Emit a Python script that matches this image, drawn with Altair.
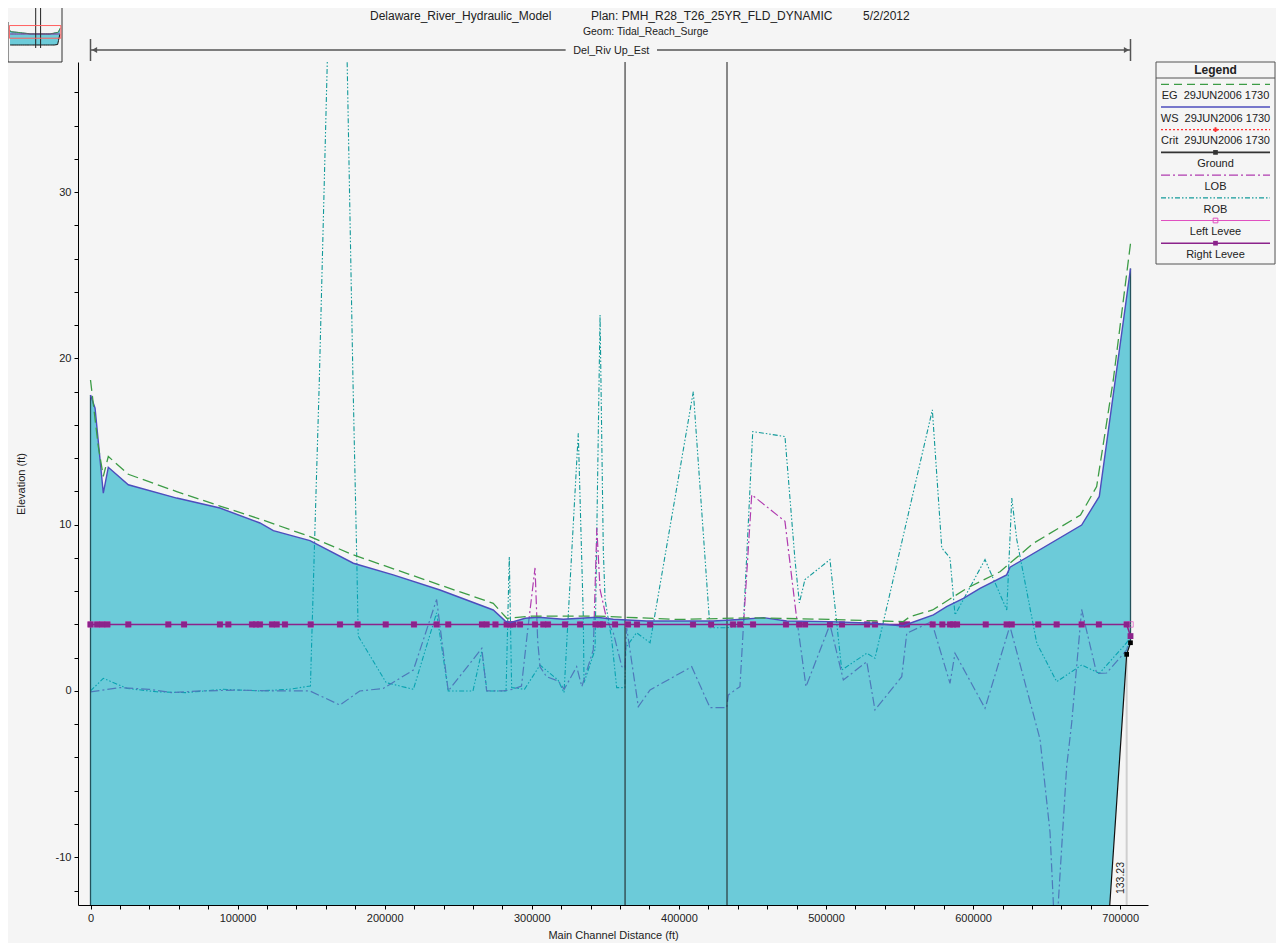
import altair as alt
import pandas as pd

# ---------------- text ----------------
TITLE_MODEL = "Delaware_River_Hydraulic_Model"
TITLE_PLAN = "Plan: PMH_R28_T26_25YR_FLD_DYNAMIC"
TITLE_DATE = "5/2/2012"
GEOM = "Geom: Tidal_Reach_Surge"
REACH = "Del_Riv Up_Est"
RS_LABEL = "133.23"
X_TITLE = "Main Channel Distance (ft)"
Y_TITLE = "Elevation (ft)"

# ---------------- data (ft) ----------------
WS_STATION = [0, 3100, 8700, 12100, 25700, 58600, 88000, 115200, 124300, 149200,
              178700, 205800, 237600, 273800, 282000, 285200, 295400, 304400, 321400, 344100,
              355400, 378000, 423400, 443800, 457400, 473300, 502700, 532200, 552500, 557100,
              573000, 582000, 593400, 604700, 622800, 625100, 673800, 685800, 704400, 707000]
WS_ELEV = [17.8, 17.0, 11.9, 13.45, 12.4, 11.6, 11.0, 10.1, 9.64, 9.04,
           7.68, 6.98, 6.07, 4.87, 4.2, 4.1, 4.37, 4.43, 4.31, 4.43,
           4.31, 4.21, 4.21, 4.31, 4.41, 4.21, 4.17, 4.07, 3.91, 4.07,
           4.57, 5.07, 5.57, 6.17, 6.98, 7.44, 9.98, 11.7, 23.7, 25.4]
GROUND_ELEV = [-40, -40, -40, -40, -40, -40, -40, -40, -40, -40,
               -40, -40, -40, -40, -40, -40, -40, -40, -40, -40,
               -40, -40, -40, -40, -40, -40, -40, -40, -40, -40,
               -40, -40, -40, -40, -40, -40, -38, -22.2, 2.2, 2.9]

EG_STATION = [0, 5300, 8700, 12100, 25700, 58600, 88000, 115200, 149200, 178700,
              237600, 273800, 283000, 300000, 345000, 400000, 450000, 502700, 552500, 557100,
              572500, 595600, 618300, 641000, 673000, 684000, 695300, 707000]
EG_ELEV = [18.7, 14.7, 12.9, 14.1, 13.03, 11.99, 11.12, 10.34, 9.28, 8.18,
           6.37, 5.27, 4.37, 4.5, 4.5, 4.3, 4.4, 4.3, 4.17, 4.47,
           4.87, 6.17, 7.17, 8.88, 10.58, 12.29, 18.7, 26.9]

LOB_STATION = [0, 20000, 40000, 55000, 75000, 100000, 125000, 149200, 169600, 183000,
               199000, 219500, 235300, 243200, 266000, 269300, 280600, 287000, 293000, 297000,
               302200, 304000, 305600, 310000, 318000, 322000, 330500, 334000, 341800, 344200,
               346400, 351000, 355500, 361200, 363400, 364500, 372400, 380400, 408700, 421100,
               432500, 433600, 441500, 443800, 449500, 472100, 479600, 486400, 502700, 511800,
               527700, 533300, 551500, 554900, 571800, 584300, 587700, 608100, 625000, 645500,
               652300, 656000, 663600, 667000, 673800, 684000, 690800, 704400, 707000]
LOB_ELEV = [-0.05, 0.2, 0.1, -0.1, 0.0, 0.05, 0.0, 0.0, -0.85, 0.0,
            0.15, 1.26, 5.5, 0.0, 2.56, 0.0, 0.0, 0.1, 0.3, 3.5,
            7.4, 3.0, 1.46, 0.86, 0.6, 0.1, 1.46, 0.26, 2.47, 9.8,
            6.1, 4.27, 3.47, 1.46, 1.38, 3.8, -0.94, 0.06, 1.46, -1.0,
            -1.0, -0.24, 0.26, 3.8, 11.8, 10.2, 4.7, 0.26, 4.0, 0.66,
            1.76, -1.14, 0.86, 3.47, 4.17, 0.46, 2.27, -1.04, 3.9, -2.9,
            -8.5, -15.5, -4.55, -1.94, 4.9, 1.06, 1.08, 2.47, 3.3]

ROB_STATION = [0, 8700, 25000, 45000, 65000, 90000, 115000, 135000, 149500, 152500,
               155500, 163000, 173000, 178400, 181000, 182000, 201000, 219500, 235300, 243200,
               260000, 266000, 269500, 282500, 284700, 286300, 295000, 305600, 317800, 321900,
               331600, 335000, 335500, 343000, 346400, 347500, 348600, 349800, 354300, 357700,
               363300, 363800, 371200, 380400, 409800, 421100, 432500, 443800, 450200, 472100,
               478900, 481900, 485700, 502700, 510700, 527700, 533300, 572300, 578700, 584300,
               587700, 608100, 622900, 626300, 629700, 643300, 656800, 673800, 685800, 704400,
               707000]
ROB_ELEV = [0.0, 0.76, 0.15, -0.05, -0.1, 0.1, 0.0, 0.1, 0.3, 9.5,
            18.5, 45.0, 45.0, 18.8, 8.0, 3.3, 0.5, 0.1, 4.7, 0.0,
            0.0, 2.4, 0.0, 0.0, 8.07, 0.2, 0.1, 1.56, 0.66, -0.1,
            15.5, 4.5, 0.5, 2.5, 22.6, 15.5, 8.5, 5.5, 3.1, 0.2,
            0.2, 2.6, 3.5, 2.9, 18.0, 3.8, 3.8, 3.9, 15.6, 15.3,
            7.9, 5.3, 6.7, 7.9, 1.26, 2.27, 1.97, 16.9, 8.6, 8.0,
            4.57, 7.9, 4.87, 11.6, 9.1, 2.87, 0.56, 1.56, 1.06, 2.9,
            3.3]

LEVEE_STATION = [0, 4500, 8000, 11500, 25700, 52900, 63600, 88000, 93700, 109800,
                 112500, 115200, 123400, 126600, 132200, 149700, 169600, 181600, 200700, 219900,
                 235300, 243200, 266100, 269300, 275300, 282900, 285200, 287400, 292000, 302200,
                 307800, 311000, 322600, 332800, 343300, 346400, 348400, 356600, 365400, 371500,
                 380400, 409600, 421900, 436800, 441600, 450400, 472800, 481700, 485800, 502700,
                 510900, 527900, 533300, 551700, 555100, 572500, 579100, 584300, 586400, 589100,
                 608600, 622800, 626300, 644300, 656800, 673800, 685500, 704400, 707000]
LEFT_LEVEE_ELEV = [4.0] * 69
RIGHT_LEVEE_ELEV = [4.0] * 68 + [3.3]

BRIDGE_STATION = [363400, 432700]
REACH_START, REACH_END = 0, 707000
RS_STATION, RS_GROUND = 704400, 2.2

LEGEND_LABELS = ["EG\u00a0 29JUN2006 1730", "WS\u00a0 29JUN2006 1730", "Crit\u00a0 29JUN2006 1730",
                 "Ground", "LOB", "ROB", "Left Levee", "Right Levee"]

# ---------------- style ----------------
FONT = "Liberation Sans"
BG = "#f5f5f5"
FILL = "#00aac3"
WS_C = "#4d4dbd"
EG_C = "#3c9c46"
ROB_C = "#139a9a"
LOB_C = "#b03cb0"
RL_C = "#8b238b"
LL_C = "#e050c0"
CRIT_C = "#ff3030"

W, H = 1070, 843
X_DOMAIN = [-8500, 718900]
Y_DOMAIN = [-12.87, 37.82]
xs = alt.Scale(domain=X_DOMAIN, nice=False, zero=False)
ys = alt.Scale(domain=Y_DOMAIN, nice=False, zero=False)

AX = alt.Axis(values=list(range(0, 700001, 20000)),
              labelExpr="datum.value % 100000 === 0 ? '' + datum.value : ''",
              title=X_TITLE, titleX=535, titleY=30, titleAlign="center", titleBaseline="middle",
              tickSize=4, labelPadding=3, labelFont=FONT, labelFontSize=11, labelColor="#222",
              titleFont=FONT, titleFontSize=11, titleFontWeight="normal", titleColor="#222",
              domainColor="#000", tickColor="#000", grid=False, labelOverlap=False, labelFlush=False)
AY = alt.Axis(values=list(range(-12, 38, 2)),
              labelExpr="datum.value % 10 === 0 ? '' + datum.value : ''",
              title=Y_TITLE, titleX=-57, titleY=421.5, titleAlign="center", titleBaseline="middle",
              tickSize=4, labelPadding=3, labelFont=FONT, labelFontSize=11, labelColor="#222",
              titleFont=FONT, titleFontSize=11, titleFontWeight="normal", titleColor="#222",
              domainColor="#000", tickColor="#000", grid=False, labelOverlap=False)


def X(f="s"):
    return alt.X(f + ":Q", scale=xs, axis=AX)


def Y(f="v"):
    return alt.Y(f + ":Q", scale=ys, axis=AY)


ws_df = pd.DataFrame({"s": WS_STATION, "ws": WS_ELEV, "g": GROUND_ELEV})
eg_df = pd.DataFrame({"s": EG_STATION, "v": EG_ELEV})
lob_df = pd.DataFrame({"s": LOB_STATION, "v": LOB_ELEV})
rob_df = pd.DataFrame({"s": ROB_STATION, "v": ROB_ELEV})
ll_df = pd.DataFrame({"s": LEVEE_STATION, "v": LEFT_LEVEE_ELEV})
rl_df = pd.DataFrame({"s": LEVEE_STATION, "v": RIGHT_LEVEE_ELEV})
br_df = pd.DataFrame({"s": BRIDGE_STATION})
edge_df = pd.DataFrame({"s": [WS_STATION[0], WS_STATION[-1]],
                        "top": [WS_ELEV[0], WS_ELEV[-1]],
                        "bot": [GROUND_ELEV[0], GROUND_ELEV[-1]]})
rs_df = pd.DataFrame({"s": [RS_STATION], "v": [RS_GROUND], "t": [RS_LABEL]})
reach_df = pd.DataFrame({"s": [REACH_START, REACH_END]})
ONE = pd.DataFrame({"k": [0]})

layers = []
# bank stations (under the translucent water fill)
layers.append(alt.Chart(rob_df).mark_line(color=ROB_C, strokeWidth=1.1, strokeDash=[5, 2, 1.5, 2, 1.5, 2],
                                          clip=True).encode(x=X(), y=Y()))
layers.append(alt.Chart(lob_df).mark_line(color=LOB_C, strokeWidth=1.2, strokeDash=[9, 3, 2, 3],
                                          clip=True).encode(x=X(), y=Y()))
# water fill
layers.append(alt.Chart(ws_df).mark_area(color=FILL, opacity=0.56, clip=True).encode(
    x=X(), y=Y("ws"), y2="g:Q"))
# edges of the wetted section
layers.append(alt.Chart(edge_df).mark_rule(color="#24525c", strokeWidth=1.3, clip=True).encode(
    x=X(), y=Y("top"), y2="bot:Q"))
# bridges
layers.append(alt.Chart(br_df).mark_rule(color="#1a1a1a", strokeWidth=1, clip=True).encode(x=X()))
# river-station marker
layers.append(alt.Chart(rs_df).mark_rule(color="#cfcfcf", strokeWidth=2, clip=True).encode(
    x=X(), y=Y(), y2=alt.value(H)))
layers.append(alt.Chart(rs_df).mark_text(angle=270, align="center", baseline="bottom", font=FONT,
                                         fontSize=10.5, color="#222", xOffset=-1).encode(
    x=X(), y=alt.value(H - 27), text="t:N"))
# levees
layers.append(alt.Chart(ll_df).mark_line(color=LL_C, strokeWidth=1, clip=True).encode(x=X(), y=Y()))
layers.append(alt.Chart(ll_df).mark_point(shape="square", filled=False, color=LL_C, size=30, strokeWidth=1,
                                          clip=True).encode(x=X(), y=Y()))
layers.append(alt.Chart(rl_df).mark_line(color=RL_C, strokeWidth=1.5, clip=True).encode(x=X(), y=Y()))
layers.append(alt.Chart(rl_df).mark_point(shape="square", filled=True, color=RL_C, size=34, opacity=1,
                                          clip=True).encode(x=X(), y=Y()))
# ground
layers.append(alt.Chart(ws_df).mark_line(color="#111", strokeWidth=1.2, clip=True).encode(x=X(), y=Y("g")))
layers.append(alt.Chart(ws_df).mark_point(shape="square", filled=True, color="#000", size=22, opacity=1,
                                          clip=True).encode(x=X(), y=Y("g")))
# water surface & energy grade
layers.append(alt.Chart(ws_df).mark_line(color=WS_C, strokeWidth=1.4, clip=True).encode(x=X(), y=Y("ws")))
layers.append(alt.Chart(eg_df).mark_line(color=EG_C, strokeWidth=1.3, strokeDash=[11, 5],
                                         clip=True).encode(x=X(), y=Y()))

# reach arrow above the plot
GAP_L, GAP_R, MID = 323000, 385100, 354000
seg_df = pd.DataFrame({"a": [REACH_START, GAP_R], "b": [GAP_L, REACH_END]})
layers.append(alt.Chart(seg_df).mark_rule(color="#555", strokeWidth=1.5).encode(
    x=X("a"), x2="b:Q", y=alt.value(-12)))
layers.append(alt.Chart(reach_df).mark_rule(color="#555", strokeWidth=1.5).encode(
    x=X(), y=alt.value(-23), y2=alt.value(-1)))
layers.append(alt.Chart(pd.DataFrame({"s": [REACH_START]})).mark_point(
    shape="triangle-left", filled=True, color="#555", size=36, xOffset=4, opacity=1).encode(
    x=X(), y=alt.value(-12)))
layers.append(alt.Chart(pd.DataFrame({"s": [REACH_END]})).mark_point(
    shape="triangle-right", filled=True, color="#555", size=36, xOffset=-4, opacity=1).encode(
    x=X(), y=alt.value(-12)))
layers.append(alt.Chart(pd.DataFrame({"s": [MID], "t": [REACH]})).mark_text(
    font=FONT, fontSize=10.8, color="#222", baseline="middle").encode(
    x=X(), y=alt.value(-11), text="t:N"))


def txt(x, y, t, size=11, align="left", weight="normal", color="#222"):
    return alt.Chart(ONE).mark_text(font=FONT, fontSize=size, align=align, baseline="middle",
                                    fontWeight=weight, color=color).encode(
        x=alt.value(x), y=alt.value(y), text=alt.value(t))


def hrule(x1, x2, y, color, width=1.0, dash=None):
    kw = dict(color=color, strokeWidth=width)
    if dash:
        kw["strokeDash"] = dash
    return alt.Chart(ONE).mark_rule(**kw).encode(x=alt.value(x1), x2=alt.value(x2), y=alt.value(y))


def vrule(x, y1, y2, color, width=1.0):
    return alt.Chart(ONE).mark_rule(color=color, strokeWidth=width).encode(
        x=alt.value(x), y=alt.value(y1), y2=alt.value(y2))


def pt(x, y, shape, color, filled, size):
    return alt.Chart(ONE).mark_point(shape=shape, color=color, filled=filled, size=size, opacity=1,
                                     strokeWidth=1).encode(x=alt.value(x), y=alt.value(y))


# titles
layers.append(txt(292, -46, TITLE_MODEL, 12))
layers.append(txt(513, -46, TITLE_PLAN, 12))
layers.append(txt(785, -46, TITLE_DATE, 12))
layers.append(txt(505, -30.5, GEOM, 10.4))

# thumbnail frame (top-left)
layers.append(vrule(-16, -62, 0, "#333"))
layers.append(vrule(-70, -40, 0, "#333"))
layers.append(hrule(-70, -16, 0, "#333"))

# legend
LX1, LX2 = 1078, 1197
layers.append(alt.Chart(ONE).mark_rect(fill=BG, stroke="#555", strokeWidth=1).encode(
    x=alt.value(LX1), x2=alt.value(LX2), y=alt.value(0), y2=alt.value(202)))
layers.append(txt((LX1 + LX2) / 2, 8, "Legend", 12, align="center", weight="bold"))
layers.append(hrule(LX1, LX2, 16, "#555"))
styles = [
    (EG_C, [8, 5], None, False, 1.3),
    (WS_C, None, None, False, 1.6),
    (CRIT_C, [2, 2], "cross", True, 1.2),
    ("#333", None, "square", True, 1.6),
    (LOB_C, [9, 3, 2, 3], None, False, 1.3),
    (ROB_C, [5, 2, 1.5, 2, 1.5, 2], None, False, 1.2),
    (LL_C, None, "square", False, 1.2),
    (RL_C, None, "square", True, 1.6),
]
for i, (lab, (c, dash, shp, filled, wdt)) in enumerate(zip(LEGEND_LABELS, styles)):
    ly = 22.3 + 22.7 * i
    layers.append(hrule(LX1 + 5, LX2 - 5, ly, c, wdt, dash))
    if shp:
        layers.append(pt((LX1 + LX2) / 2, ly, shp, c, filled, 22))
    layers.append(txt((LX1 + LX2) / 2, 34 + 22.7 * i, lab, 11, align="center"))

main = alt.layer(*layers)

# ---------------- overview thumbnail (own scales) ----------------
txs = alt.Scale(domain=[0, 707000], range=[-68, -18], nice=False, zero=False)
tys = alt.Scale(domain=[-108, 140], range=[0, -62], nice=False, zero=False)
TX = alt.X("s:Q", scale=txs, axis=None)
view_df = pd.DataFrame({"s": [X_DOMAIN[0]], "e": [X_DOMAIN[1]], "lo": [Y_DOMAIN[0]], "hi": [Y_DOMAIN[1]]})
thumb = alt.layer(
    alt.Chart(ws_df).mark_area(color=FILL, opacity=0.56).encode(
        x=TX, y=alt.Y("ws:Q", scale=tys, axis=None), y2="g:Q"),
    alt.Chart(ws_df).mark_line(color="#111", strokeWidth=1).encode(
        x=TX, y=alt.Y("g:Q", scale=tys, axis=None)),
    alt.Chart(ws_df).mark_line(color=WS_C, strokeWidth=1).encode(
        x=TX, y=alt.Y("ws:Q", scale=tys, axis=None)),
    alt.Chart(eg_df).mark_line(color=EG_C, strokeWidth=1).encode(
        x=TX, y=alt.Y("v:Q", scale=tys, axis=None)),
    alt.Chart(rl_df).mark_line(color=RL_C, strokeWidth=1).encode(
        x=TX, y=alt.Y("v:Q", scale=tys, axis=None)),
    alt.Chart(br_df).mark_rule(color="#222", strokeWidth=1).encode(
        x=TX, y=alt.value(-62), y2=alt.value(-14)),
    alt.Chart(view_df).mark_rect(fill=None, stroke="#ff6060", strokeWidth=1).encode(
        x=TX, x2="e:Q", y=alt.Y("lo:Q", scale=tys, axis=None), y2="hi:Q"),
)

chart = alt.layer(main, thumb).resolve_scale(x="independent", y="independent").properties(
    width=W, height=H,
    autosize=alt.AutoSizeParams(type="none"),
    padding={"left": 70, "top": 54, "right": 128, "bottom": 38},
).configure(background=BG).configure_view(stroke=None)

chart.save("out.html", embed_options={"renderer": "svg", "actions": False})
